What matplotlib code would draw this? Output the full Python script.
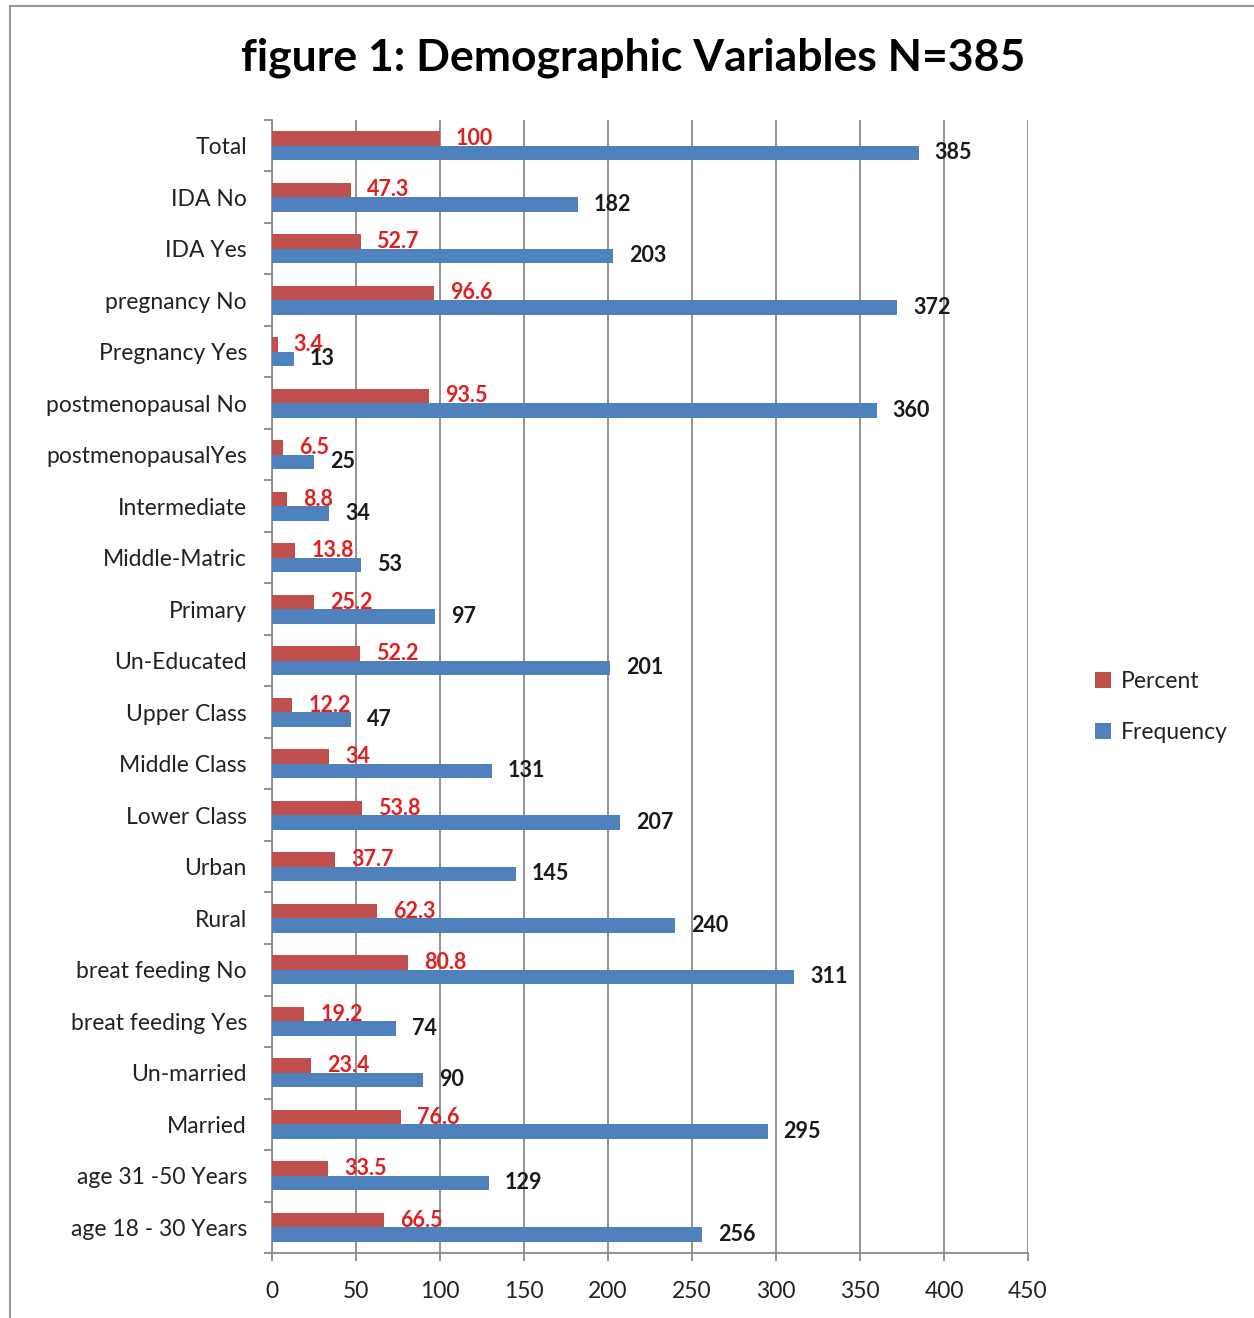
import matplotlib.pyplot as plt
import numpy as np
from matplotlib.patches import Rectangle

plt.rcParams['font.family'] = ['Lato', 'DejaVu Sans']

# categories listed top to bottom as in the chart
categories = ['Total', 'IDA No', 'IDA Yes', 'pregnancy No', 'Pregnancy Yes',
              'postmenopausal No', 'postmenopausalYes', 'Intermediate',
              'Middle-Matric', 'Primary', 'Un-Educated', 'Upper Class',
              'Middle Class', 'Lower Class', 'Urban', 'Rural',
              'breat feeding No', 'breat feeding Yes', 'Un-married', 'Married',
              'age 31 -50 Years', 'age 18 - 30 Years']
percent = [100, 47.3, 52.7, 96.6, 3.4, 93.5, 6.5, 8.8, 13.8, 25.2, 52.2,
           12.2, 34, 53.8, 37.7, 62.3, 80.8, 19.2, 23.4, 76.6, 33.5, 66.5]
frequency = [385, 182, 203, 372, 13, 360, 25, 34, 53, 97, 201,
             47, 131, 207, 145, 240, 311, 74, 90, 295, 129, 256]

red = '#C0504D'
blue = '#4F81BD'
grid_col = '#8a8a8a'

fig = plt.figure(figsize=(12.54, 13.18), dpi=100)
ax = fig.add_axes([0.2169, 0.0493, 0.6029, 0.8597])

n = len(categories)
y = np.arange(n)[::-1]  # Total at top
h = 0.28

ax.barh(y + h / 2, percent, height=h, color=red, label='Percent', zorder=3)
ax.barh(y - h / 2, frequency, height=h, color=blue, label='Frequency', zorder=3)

for yi, p, f in zip(y, percent, frequency):
    ax.annotate(f'{p:g}', (p, yi + h / 2), xytext=(11.5, 0), textcoords='offset points',
                va='center', ha='left', color='#E02020', fontsize=15.5,
                fontweight='bold', zorder=4)
    ax.annotate(f'{f:g}', (f, yi - h / 2), xytext=(11.5, 0), textcoords='offset points',
                va='center', ha='left', color='#1a1a1a', fontsize=15.5,
                fontweight='bold', zorder=4)

ax.set_xlim(0, 450)
ax.set_ylim(-0.5, n - 0.5)
ax.set_xticks(np.arange(0, 451, 50))
ax.set_yticks(y)
ax.set_yticklabels(categories)
ax.set_yticks(np.arange(-0.5, n, 1), minor=True)

ax.xaxis.grid(True, color=grid_col, linewidth=1.3, zorder=0)
ax.tick_params(axis='y', which='major', length=0, pad=18, labelsize=16.5, labelcolor='#222222')
ax.tick_params(axis='y', which='minor', length=6, width=1.3, color=grid_col, direction='out')
ax.tick_params(axis='x', length=6, width=1.3, color=grid_col, pad=14, labelsize=16.5,
               labelcolor='#222222')

for s in ['top', 'right']:
    ax.spines[s].set_visible(False)
for s in ['left', 'bottom']:
    ax.spines[s].set_color(grid_col)
    ax.spines[s].set_linewidth(1.3)

fig.text(0.505, 0.956, 'figure 1: Demographic Variables N=385', ha='center', va='center',
         fontsize=32, fontweight='bold', color='black')

handles, labels = ax.get_legend_handles_labels()
fig.legend(handles, labels, loc='center left', bbox_to_anchor=(0.857, 0.4636),
           frameon=False, fontsize=16.5, handlelength=0.7, handleheight=0.7,
           labelspacing=1.3, handletextpad=0.4, labelcolor='#222222')

fig.add_artist(Rectangle((0.008, -0.1), 1.2, 1.0954, transform=fig.transFigure,
                         fill=False, edgecolor='#9a9a9a', linewidth=1.5))

fig.savefig('out.png', dpi=100)
